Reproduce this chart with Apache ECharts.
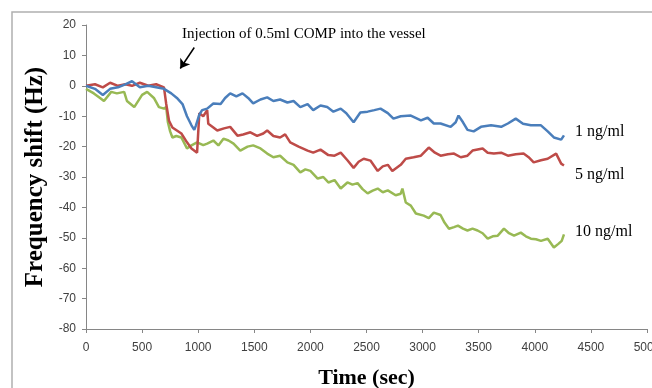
<!DOCTYPE html>
<html>
<head>
<meta charset="utf-8">
<script src="https://cdn.jsdelivr.net/npm/echarts@6/dist/echarts.min.js"></script>
<style>
  html, body { margin: 0; padding: 0; background: #fff; }
  #chart { width: 652px; height: 388px; }
</style>
</head>
<body>
<div id="chart"></div>
<script>
// 1 ng/ml
const blueTime = [0,80,150,215,285,350,410,480,555,625,695,760,810,860,900,940,965,980,1010,1035,
  1080,1135,1200,1240,1285,1340,1395,1445,1490,1555,1615,1670,1730,1795,1850,1910,1975,2025,2090,2150,
  2205,2270,2320,2385,2445,2510,2570,2625,2690,2740,2805,2895,2985,3045,3100,3160,3250,3295,3320,3360,
  3400,3455,3520,3610,3700,3760,3830,3895,3965,4055,4115,4170,4235,4260];
const blueShift = [0,-1,-3,-1,-0.5,0.5,1.5,-0.5,0,-0.5,-1,-2.5,-4,-6,-10,-13,-14.5,-13,-9.5,-8,
  -7.5,-5.8,-6,-4,-2.5,-3.5,-2.5,-4,-5.8,-4.5,-3.8,-5,-4.5,-5.5,-5,-7,-6,-8,-6.5,-7,
  -8.5,-7.5,-9,-12,-8.8,-8.5,-8,-7.5,-9,-10.8,-10,-9.8,-11.4,-10.5,-12.4,-12.4,-13.5,-12,-9.8,-12,
  -14.5,-15,-13.5,-13,-13.5,-12.4,-10.8,-12.5,-13,-13,-15,-17,-17.7,-16.3];

// 5 ng/ml
const redTime = [0,80,150,215,285,350,410,480,555,625,695,715,740,770,850,900,940,990,1010,1045,
  1080,1090,1135,1170,1230,1285,1350,1400,1465,1525,1580,1615,1670,1730,1775,1820,1895,1975,2025,2090,
  2160,2215,2270,2330,2385,2430,2475,2535,2600,2645,2690,2730,2805,2850,2920,2985,3055,3110,3160,3225,
  3280,3340,3400,3445,3535,3580,3635,3700,3760,3830,3900,3945,3990,4055,4115,4190,4235,4260];
const redShift = [0,0.5,-0.5,1,0,0.5,0,1,0,0.5,-0.5,-6,-11.5,-13.7,-15.7,-18.6,-20.6,-22,-9,-10,
  -8,-12.5,-13.7,-14.7,-14,-13.5,-16.4,-16,-15.3,-16.5,-15.7,-14.7,-16.5,-17,-16,-18.6,-20,-21.3,-22,-21,
  -22.8,-23,-22,-24.5,-27,-25,-24,-24.6,-28,-26.5,-26,-28,-26,-24,-23.5,-23,-20.3,-22,-23,-22.5,
  -22.3,-23.5,-23,-21.3,-20.6,-22,-22.3,-22,-23,-22.5,-22.3,-23.5,-25.2,-24.5,-24,-22.3,-25.6,-26.2];

// 10 ng/ml
const greenTime = [0,70,125,160,225,275,340,365,430,500,545,605,650,695,715,730,750,770,805,850,
  900,940,990,1045,1080,1135,1180,1225,1270,1315,1375,1440,1490,1555,1615,1670,1730,1795,1850,1910,
  1955,2000,2065,2115,2160,2215,2270,2330,2375,2420,2465,2510,2555,2600,2645,2690,2760,2805,2820,2850,
  2895,2940,3010,3055,3100,3160,3195,3235,3280,3315,3360,3400,3445,3490,3535,3580,3625,3670,3725,3770,
  3815,3875,3920,3965,4010,4055,4115,4170,4210,4240,4260];
const greenShift = [-1,-2.5,-4,-5,-2,-2.5,-2,-5,-7,-3,-2,-4,-7,-7.5,-7,-12,-15,-17,-16.5,-17,
  -20.6,-19.6,-18.6,-19.5,-19,-18,-19.6,-17.4,-18,-19,-21.3,-20,-19.6,-20.6,-22.3,-23.5,-23,-25.2,-26,-28.5,
  -27.5,-28,-30.5,-30,-31.8,-31,-33.8,-31.8,-32.5,-32,-34,-35.4,-34.5,-33.8,-35,-34.4,-36,-35.5,-33.8,-38.4,
  -39.4,-42,-42.7,-43.5,-41.7,-42.5,-45,-47,-46.5,-46,-47,-47.6,-47,-47.6,-48.5,-50.3,-49.5,-49.3,-47,-48.5,
  -49.3,-48.3,-49.5,-50.3,-50.5,-51,-50.3,-53.2,-52,-51,-48.9];

const seriesNames = ["1 ng/ml", "5 ng/ml", "10 ng/ml"];
const seriesColors = ["#4a7ebb", "#be4b48", "#98b954"];

const pairs = (t, v) => t.map((x, i) => [x, v[i]]);

const chart = echarts.init(document.getElementById("chart"));

const axisLabelStyle = {
  color: "#404040",
  fontSize: 12,
  fontFamily: "'Liberation Sans Narrow', 'Liberation Sans', Arial, sans-serif",
  formatter: (v) => String(v),
};
const axisLineStyle = { lineStyle: { color: "#868686", width: 1 } };
const serif = "'Liberation Serif', 'Times New Roman', serif";

const option = {
  animation: false,
  backgroundColor: "#fff",
  grid: { left: 86, right: 5, top: 25, bottom: 59, outerBoundsMode: "none" },
  xAxis: {
    type: "value",
    min: 0,
    max: 5000,
    interval: 500,
    name: "Time (sec)",
    nameLocation: "middle",
    nameGap: 38,
    nameTextStyle: { fontFamily: serif, fontWeight: "bold", fontSize: 22, color: "#000" },
    axisLine: { show: true, onZero: false, ...axisLineStyle },
    axisTick: { show: true, length: 4, lineStyle: { color: "#868686" } },
    axisLabel: { ...axisLabelStyle, margin: 13 },
    splitLine: { show: false },
  },
  yAxis: {
    type: "value",
    min: -80,
    max: 20,
    interval: 10,
    name: "Frequency shift (Hz)",
    nameLocation: "middle",
    nameRotate: 90,
    nameGap: 34,
    nameTextStyle: { fontFamily: serif, fontWeight: "bold", fontSize: 25, color: "#000" },
    axisLine: { show: true, onZero: false, ...axisLineStyle },
    axisTick: { show: true, length: 4, lineStyle: { color: "#868686" } },
    axisLabel: { ...axisLabelStyle, margin: 10 },
    splitLine: { show: false },
  },
  series: [
    {
      name: seriesNames[0],
      type: "line",
      showSymbol: false,
      data: pairs(blueTime, blueShift),
      lineStyle: { color: seriesColors[0], width: 2.5 },
      itemStyle: { color: seriesColors[0] },
      z: 3,
      markLine: {
        silent: true,
        symbol: ["none", "arrow"],
        symbolSize: 9,
        label: { show: false },
        lineStyle: { color: "#000", width: 1.5, type: "solid" },
        data: [[{ coord: [965, 12.6] }, { coord: [840, 5.7] }]],
      },
    },
    {
      name: seriesNames[1],
      type: "line",
      showSymbol: false,
      data: pairs(redTime, redShift),
      lineStyle: { color: seriesColors[1], width: 2.5 },
      itemStyle: { color: seriesColors[1] },
      z: 2,
    },
    {
      name: seriesNames[2],
      type: "line",
      showSymbol: false,
      data: pairs(greenTime, greenShift),
      lineStyle: { color: seriesColors[2], width: 2.5 },
      itemStyle: { color: seriesColors[2] },
      z: 1,
    },
  ],
  graphic: [
    {
      type: "rect",
      shape: { x: 12, y: 12, width: 700, height: 420 },
      style: { fill: "none", stroke: "#b0b0b0", lineWidth: 1.5 },
      silent: true,
    },
    {
      type: "text",
      left: 182,
      top: 27,
      style: { text: "Injection of 0.5ml COMP into the vessel", font: "15px " + serif, fill: "#000" },
    },
    {
      type: "text", left: 575, top: 124,
      style: { text: seriesNames[0], font: "16px " + serif, fill: "#000" },
    },
    {
      type: "text", left: 575, top: 167,
      style: { text: seriesNames[1], font: "16px " + serif, fill: "#000" },
    },
    {
      type: "text", left: 575, top: 224,
      style: { text: seriesNames[2], font: "16px " + serif, fill: "#000" },
    },
  ],
};

chart.setOption(option);
</script>
</body>
</html>
